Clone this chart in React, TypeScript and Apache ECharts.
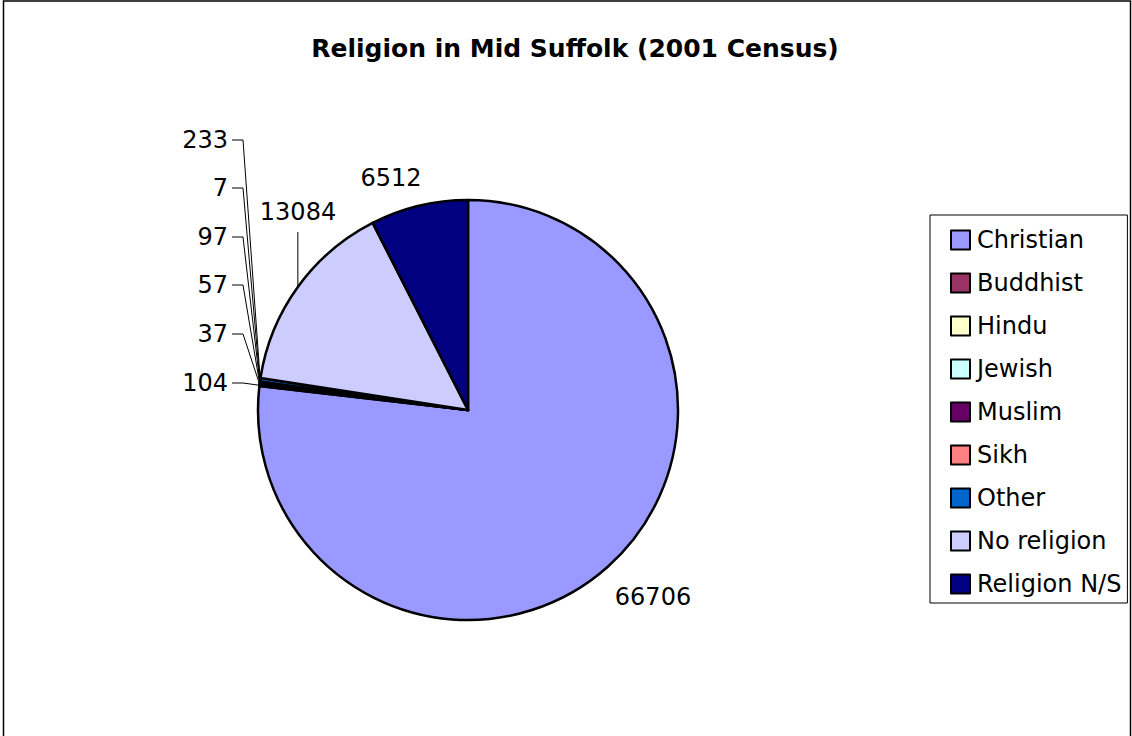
import React, { useEffect, useRef } from "react";
import * as echarts from "echarts";

const titleText = "Religion in Mid Suffolk (2001 Census)";
const categories = ["Christian", "Buddhist", "Hindu", "Jewish", "Muslim", "Sikh", "Other", "No religion", "Religion N/S"];
const values = [66706, 104, 37, 57, 97, 7, 233, 13084, 6512];
const colors = ["#9999FF", "#993366", "#FFFFCC", "#CCFFFF", "#660066", "#FF8080", "#0066CC", "#CCCCFF", "#000080"];

const FONT = "DejaVu Sans";

export default function App() {
  const ref = useRef<HTMLDivElement>(null);
  useEffect(() => {
    if (!ref.current) return;
    const chart = echarts.init(ref.current, null, { renderer: "svg" });
    const smallY: Record<number, number> = { 1: 383, 2: 334, 3: 285, 4: 237, 5: 188, 6: 140 };
    chart.setOption({
      animation: false,
      backgroundColor: "#ffffff",
      title: {
        text: titleText,
        left: 570,
        top: 31,
        textAlign: "center",
        textStyle: { fontFamily: FONT, fontSize: 25, fontWeight: "bold", color: "#000" },
      },
      legend: {
        orient: "vertical",
        left: 930,
        top: 215,
        padding: [13, 6, 7, 20],
        itemWidth: 19,
        itemHeight: 19,
        itemGap: 19,
        icon: "rect",
        borderColor: "#000",
        borderWidth: 1,
        backgroundColor: "#fff",
        data: categories,
        textStyle: { fontFamily: FONT, fontSize: 24, color: "#000", lineHeight: 24, padding: [0, 0, 0, 2] },
        itemStyle: { borderColor: "#000", borderWidth: 2 },
      },
      graphic: [
        {
          type: "rect",
          shape: { x: 3.5, y: 1, width: 1127, height: 800 },
          style: { fill: "none", stroke: "#000", lineWidth: 1.5 },
          silent: true,
          z: -1,
        },
      ],
      series: [
        {
          type: "pie",
          center: [468, 410],
          radius: 210,
          startAngle: 90,
          clockwise: true,
          avoidLabelOverlap: false,
          itemStyle: { borderColor: "#000", borderWidth: 2.5 },
          label: {
            show: true,
            position: "outside",
            formatter: "{c}",
            fontFamily: FONT,
            fontSize: 24,
            color: "#000",
          },
          labelLine: { show: true, lineStyle: { color: "#000", width: 1 }, length: 10, length2: 10 },
          labelLayout: (p: any) => {
            const i = p.dataIndex;
            const pts = p.labelLinePoints;
            const edge = pts ? pts[0] : [0, 0];
            if (i === 0) return { x: 653, y: 597, align: "center", verticalAlign: "middle" };
            if (i === 8) return { x: 391, y: 178, align: "center", verticalAlign: "middle" };
            if (i === 7)
              return {
                x: 298,
                y: 212,
                align: "center",
                verticalAlign: "middle",
                labelLinePoints: [edge, [edge[0], 232], [edge[0], 232]],
              };
            const y = smallY[i];
            return {
              x: 228,
              y,
              align: "right",
              verticalAlign: "middle",
              labelLinePoints: [edge, [243, y], [232, y]],
            };
          },
          emphasis: { disabled: true },
          data: categories.map((name, i) => ({
            name,
            value: values[i],
            itemStyle: { color: colors[i] },
            labelLine: { show: i !== 0 && i !== 8 },
          })),
        },
      ],
    });
    return () => chart.dispose();
  }, []);
  return (
    <div
      ref={ref}
      style={{ position: "absolute", left: 0, top: 0, width: 1132, height: 736 }}
    />
  );
}
